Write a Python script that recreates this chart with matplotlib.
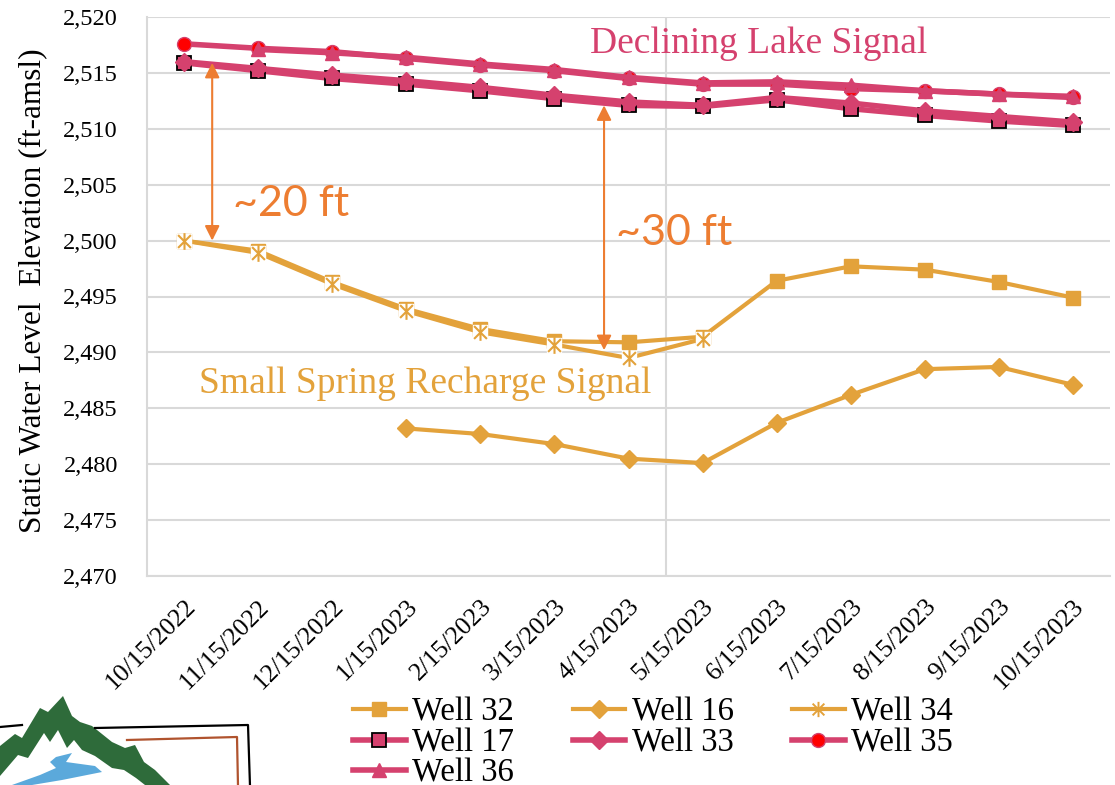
import numpy as np
import matplotlib
matplotlib.use("Agg")
import matplotlib.pyplot as plt
from matplotlib.path import Path
from matplotlib.patches import Polygon
from matplotlib.lines import Line2D

dates = ["10/15/2022", "11/15/2022", "12/15/2022", "1/15/2023", "2/15/2023", "3/15/2023",
         "4/15/2023", "5/15/2023", "6/15/2023", "7/15/2023", "8/15/2023", "9/15/2023", "10/15/2023"]
nan = np.nan
well32 = [2500.0, 2499.1, 2496.3, 2493.9, 2492.1, 2491.0, 2490.9, 2491.4, 2496.4, 2497.7, 2497.4, 2496.3, 2494.9]
well16 = [nan, nan, nan, 2483.2, 2482.7, 2481.8, 2480.5, 2480.1, 2483.7, 2486.2, 2488.5, 2488.7, 2487.1]
well34 = [2500.0, 2498.9, 2496.1, 2493.7, 2491.8, 2490.7, 2489.5, 2491.2, nan, nan, nan, nan, nan]
well17 = [2515.9, 2515.2, 2514.5, 2514.0, 2513.4, 2512.7, 2512.1, 2512.0, 2512.6, 2511.8, 2511.2, 2510.7, 2510.3]
well33 = [2516.0, 2515.4, 2514.8, 2514.3, 2513.7, 2513.0, 2512.4, 2512.1, 2512.8, 2512.3, 2511.6, 2511.1, 2510.6]
well35 = [2517.6, 2517.2, 2516.9, 2516.3, 2515.7, 2515.2, 2514.5, 2514.0, 2514.0, 2513.6, 2513.4, 2513.1, 2512.8]
well36 = [nan, 2517.1, 2516.8, 2516.4, 2515.8, 2515.3, 2514.6, 2514.1, 2514.2, 2513.9, 2513.4, 2513.1, 2512.9]
yticks = list(range(2470, 2521, 5))

ORANGE = "#E3A23B"
PINK = "#D5416E"
ANN = "#ED7D31"
GRID = "#D9D9D9"
SERIF = ["Liberation Serif", "DejaVu Serif"]

W, H = 1115, 785
fig = plt.figure(figsize=(W / 100, H / 100), dpi=100)
ax = fig.add_axes([147 / W, 1 - 576 / H, (1110 - 147) / W, (576 - 17) / H])
x = np.arange(len(dates))

# Star marker (asterisk) path
star = Path([(-1, -1), (1, 1), (-1, 1), (1, -1), (0, -1.3), (0, 1.3)],
            [Path.MOVETO, Path.LINETO, Path.MOVETO, Path.LINETO, Path.MOVETO, Path.LINETO])

lw_o = 3.0
lw_p = 4.0
h32, = ax.plot(x, well32, color=ORANGE, lw=lw_o, marker="s", ms=10, mfc=ORANGE, mec=ORANGE, zorder=3, label="Well 32")
h16, = ax.plot(x, well16, color=ORANGE, lw=lw_o, marker="D", ms=9, mfc=ORANGE, mec=ORANGE, zorder=3, label="Well 16")
ax.plot(x, well34, color=ORANGE, lw=lw_o, zorder=4)
ax.plot(x, well34, ls="none", marker="s", ms=10, mfc="white", mec="white", zorder=5)
ax.plot(x, well34, ls="none", marker=star, ms=12, mfc="none", mec=ORANGE, mew=1.5, zorder=6)
h34 = Line2D([], [], color=ORANGE, lw=lw_o, marker=star, ms=11, mfc="none", mec=ORANGE, mew=1.4, label="Well 34")

h17, = ax.plot(x, well17, color=PINK, lw=lw_p, marker="s", ms=10, mfc=PINK, mec="black", mew=1.3, zorder=6, label="Well 17")
h33, = ax.plot(x, well33, color=PINK, lw=lw_p, marker="D", ms=9, mfc=PINK, mec=PINK, zorder=7, label="Well 33")
h35, = ax.plot(x, well35, color=PINK, lw=lw_p, marker="o", ms=10, mfc="#FF0000", mec=PINK, mew=1.0, zorder=6, label="Well 35")
h36, = ax.plot(x, well36, color=PINK, lw=lw_p, marker="^", ms=10, mfc=PINK, mec=PINK, zorder=7, label="Well 36")

ax.set_xlim(-0.5, len(dates) - 0.5)
ax.set_ylim(2470, 2520)
ax.set_yticks(yticks)
ax.set_yticklabels([f"{v:,}" for v in yticks], fontfamily=SERIF, fontsize=17.5)
ax.set_xticks(x)
ax.set_xticklabels(dates, rotation=45, ha="right", va="top", rotation_mode="anchor",
                   fontfamily=SERIF, fontsize=18.5)
ax.tick_params(axis="both", length=0)
ax.tick_params(axis="y", pad=21)
ax.tick_params(axis="x", pad=14)
ax.grid(axis="y", color=GRID, lw=1.5, zorder=0)
ax.set_axisbelow(True)
ax.axvline(6.5, color=GRID, lw=1.5, zorder=0)
for s in ["top", "right"]:
    ax.spines[s].set_visible(False)
for s in ["left", "bottom"]:
    ax.spines[s].set_color(GRID)
    ax.spines[s].set_linewidth(1.5)

ax.set_ylabel("Static Water Level  Elevation (ft-amsl)", fontfamily=SERIF, fontsize=22.5)
ax.yaxis.set_label_coords(-0.104, 0.51)

# Annotations
ap = dict(arrowstyle="<|-|>", color=ANN, lw=1.5, mutation_scale=22, shrinkA=0, shrinkB=0)
ax.annotate("", xy=(0.38, 2515.9), xytext=(0.38, 2500.0), arrowprops=ap, zorder=8)
ax.annotate("", xy=(5.67, 2512.1), xytext=(5.67, 2490.2), arrowprops=ap, zorder=8)
ax.text(0.66, 2503.3, "~20 ft", color=ANN, fontsize=31, fontfamily=["Lato", "DejaVu Sans"], va="center", ha="left")
ax.text(5.83, 2500.7, "~30 ft", color=ANN, fontsize=31, fontfamily=["Lato", "DejaVu Sans"], va="center", ha="left")
ax.text(5.48, 2517.6, "Declining Lake Signal", color=PINK, fontsize=27, fontfamily=SERIF, va="center", ha="left")
ax.text(0.2, 2487.2, "Small Spring Recharge Signal", color=ORANGE, fontsize=27, fontfamily=SERIF, va="center", ha="left")

# Legend
handles = [h32, h17, h36, h16, h33, h34, h35]
fig.legend(handles=handles, labels=[h.get_label() for h in handles], ncol=3, loc="upper left",
           bbox_to_anchor=(337 / W, 1 - 681 / H), frameon=False,
           prop={"family": SERIF, "size": 23.5}, handlelength=1.6, handletextpad=0.2,
           columnspacing=1.8, labelspacing=0.0, borderpad=0.0)

# Logo (decorative)
def px(pts):
    return [(a / W, 1 - b / H) for a, b in pts]

green = [(0, 746), (15, 734), (22, 738), (40, 708), (48, 712), (63, 696), (72, 716), (80, 722),
         (92, 726), (112, 742), (125, 748), (135, 745), (144, 762), (155, 770), (170, 785),
         (145, 785), (136, 778), (124, 770), (112, 768), (95, 756), (82, 750), (74, 740),
         (67, 748), (58, 730), (50, 742), (44, 733), (28, 758), (18, 755), (0, 776)]
fig.add_artist(Polygon(px(green), closed=True, transform=fig.transFigure, facecolor="#2E6B3A", edgecolor="none"))
river = [(56, 757), (72, 753), (66, 762), (95, 766), (102, 772), (62, 780), (32, 785), (12, 785),
         (40, 775), (56, 768), (50, 762)]
fig.add_artist(Polygon(px(river), closed=True, transform=fig.transFigure, facecolor="#5BA9DB", edgecolor="none"))
fig.add_artist(Line2D(*zip(*px([(0, 727), (22, 725)])), transform=fig.transFigure, color="black", lw=1.6))
fig.add_artist(Line2D(*zip(*px([(95, 728), (248, 725), (250, 786)])), transform=fig.transFigure, color="black", lw=1.6))
fig.add_artist(Line2D(*zip(*px([(127, 740), (237, 737), (238, 786)])), transform=fig.transFigure, color="#B0532E", lw=1.6))

fig.savefig("out.png", dpi=100)
